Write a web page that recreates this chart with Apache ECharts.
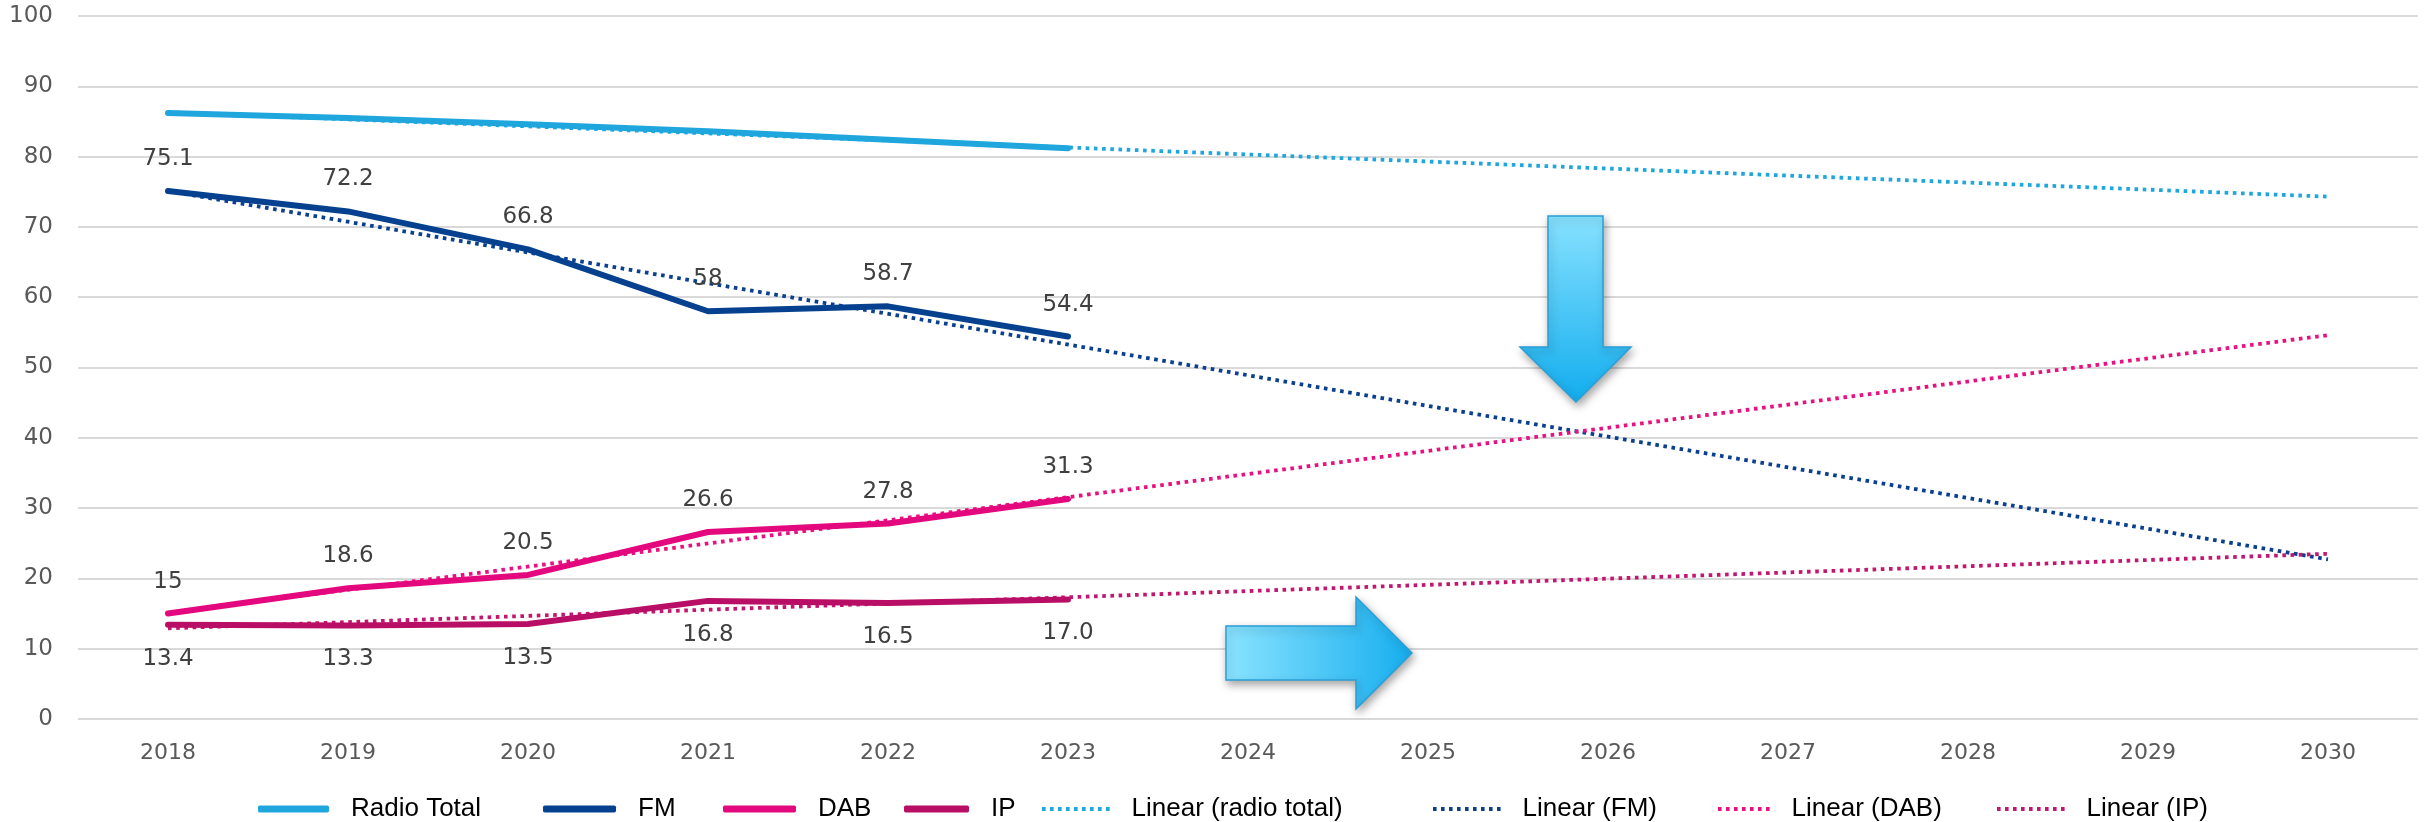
<!DOCTYPE html>
<html>
<head>
<meta charset="utf-8">
<script src="https://cdn.jsdelivr.net/npm/echarts@6/dist/echarts.min.js"></script>
<style>
html,body{margin:0;padding:0;background:#fff;}
#chart{width:2429px;height:822px;}
</style>
</head>
<body>
<div id="chart"></div>
<script>
// ---- data ----
const years = ['2018','2019','2020','2021','2022','2023','2024','2025','2026','2027','2028','2029','2030'];
const radioTotal = [86.2, 85.5, 84.6, 83.6, 82.4, 81.2];
const fm = [75.1, 72.2, 66.8, 58, 58.7, 54.4];
const dab = [15, 18.6, 20.5, 26.6, 27.8, 31.3];
const ip = [13.4, 13.3, 13.5, 16.8, 16.5, 17.0];
// trend lines: start (2018) and end (2030) values
const trendRadioTotal = [86.3, 74.3];
const trendFM = [75.1, 22.7];
const trendDAB = [15.1, 54.6];
const trendIP = [12.9, 23.5];
const yTicks = [0, 100, 10];

function trendSeries(pair) {
  const arr = years.map(() => null);
  arr[0] = pair[0];
  arr[arr.length - 1] = pair[1];
  return arr;
}

const C = {
  rt: '#1FA6DC', fm: '#06418F', dab: '#E4087E', ip: '#B90E66',
  trt: '#1FA6DC', tfm: '#0B3F8F', tdab: '#E8127F', tip: '#C2176E'
};

const labelFont = {fontFamily: 'DejaVu Sans', fontSize: 23, color: '#404040'};
const dotType = [3.6, 4.6];

function solid(name, data, color, labelPos, fmt) {
  return {
    name, type: 'line', data, z: 5,
    symbol: 'circle', symbolSize: 1,
    itemStyle: {color},
    lineStyle: {color, width: 6, cap: 'round', join: 'round'},
    label: labelPos ? Object.assign({show: true, position: labelPos, distance: labelPos === 'top' ? 20 : 22,
      formatter: fmt || (p => String(p.value))}, labelFont) : {show: false},
    emphasis: {disabled: true}, animation: false
  };
}
function dotted(name, pair, color) {
  return {
    name, type: 'line', data: trendSeries(pair), connectNulls: true, z: 3,
    symbol: 'none', itemStyle: {color},
    lineStyle: {color, width: 3.8, type: dotType},
    emphasis: {disabled: true}, animation: false
  };
}

// dotted legend icon as a path of small squares
function dotPath(n) {
  let p = '';
  for (let i = 0; i < n; i++) p += 'M' + (i * 8) + ',0h3.6v3.8h-3.6z';
  return 'path://' + p;
}

const legendText = {fontFamily: 'Liberation Sans, Arial, sans-serif', fontSize: 26, color: '#000', padding: [0, 0, 0, 17]};
function leg(name, left, w, isDotted) {
  const o = {
    data: [name], left, top: 791, itemWidth: w, itemHeight: 7,
    textStyle: legendText, selectedMode: false
  };
  if (isDotted) {
    const n = Math.round((w + 4.4) / 8);
    o.icon = dotPath(n);
    o.itemWidth = n * 8 - 4.4;
    o.itemHeight = 3.8;
  } else {
    o.icon = 'roundRect';
  }
  return o;
}

const option = {
  backgroundColor: '#fff',
  animation: false,
  grid: {left: 78, right: 11, top: 16, bottom: 103},
  xAxis: {
    type: 'category', data: years, boundaryGap: true,
    axisLine: {show: false}, axisTick: {show: false},
    axisLabel: {fontFamily: 'DejaVu Sans', fontSize: 22, color: '#595959', margin: 23}
  },
  yAxis: {
    type: 'value', min: yTicks[0], max: yTicks[1], interval: yTicks[2],
    axisLine: {show: false}, axisTick: {show: false},
    axisLabel: {fontFamily: 'DejaVu Sans', fontSize: 23, color: '#595959', margin: 25},
    splitLine: {lineStyle: {color: '#D9D9D9', width: 2}}
  },
  legend: [
    leg('Radio Total', 253, 71, false),
    leg('FM', 538, 73, false),
    leg('DAB', 718, 73, false),
    leg('IP', 899, 65, false),
    leg('Linear (radio total)', 1037, 71, true),
    leg('Linear (FM)', 1428, 65, true),
    leg('Linear (DAB)', 1713, 51, true),
    leg('Linear (IP)', 1992, 65, true)
  ],
  series: [
    solid('Radio Total', radioTotal, C.rt, null),
    solid('FM', fm, C.fm, 'top'),
    solid('DAB', dab, C.dab, 'top'),
    solid('IP', ip, C.ip, 'bottom', p => p.value.toFixed(1)),
    dotted('Linear (radio total)', trendRadioTotal, C.trt),
    dotted('Linear (FM)', trendFM, C.tfm),
    dotted('Linear (DAB)', trendDAB, C.tdab),
    dotted('Linear (IP)', trendIP, C.tip)
  ],
  graphic: [
    {
      type: 'polygon', z: 100,
      shape: {points: [[1548,216],[1603,216],[1603,347],[1631,347],[1576,402],[1520,347],[1548,347]]},
      style: {
        fill: new echarts.graphic.LinearGradient(0, 0, 0, 1, [{offset: 0, color: '#88E2FF'}, {offset: 1, color: '#12ADEE'}]),
        stroke: '#2A9FD6', lineWidth: 1.5,
        shadowBlur: 8, shadowColor: 'rgba(0,0,0,0.35)', shadowOffsetX: 2, shadowOffsetY: 4
      }
    },
    {
      type: 'polygon', z: 100,
      shape: {points: [[1226,626],[1356,626],[1356,597],[1412,653],[1356,709],[1356,680],[1226,680]]},
      style: {
        fill: new echarts.graphic.LinearGradient(0, 0, 1, 0, [{offset: 0, color: '#8AE3FF'}, {offset: 1, color: '#16AEEF'}]),
        stroke: '#2A9FD6', lineWidth: 1.5,
        shadowBlur: 8, shadowColor: 'rgba(0,0,0,0.35)', shadowOffsetX: 2, shadowOffsetY: 4
      }
    }
  ]
};

const chart = echarts.init(document.getElementById('chart'), null, {renderer: 'canvas'});
chart.setOption(option);
</script>
</body>
</html>
